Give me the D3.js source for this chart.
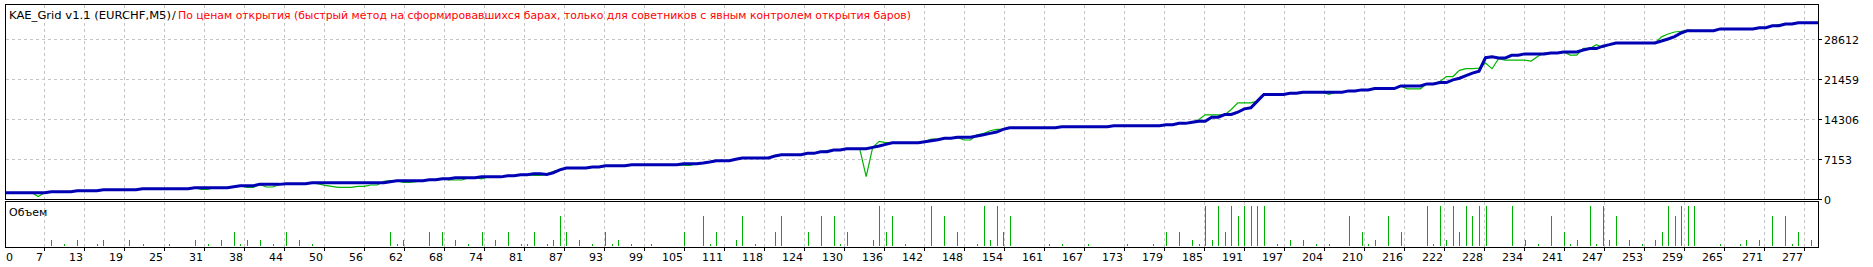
<!DOCTYPE html>
<html><head><meta charset="utf-8">
<script src="https://cdn.jsdelivr.net/npm/d3@7"></script>
<style>html,body{margin:0;padding:0;background:#fff;overflow:hidden}svg{display:block}</style>
</head><body>
<svg id="c" width="1873" height="267"></svg>
<script>
const titleMain = "KAE_Grid v1.1 (EURCHF,M5)";
const titleSep = "/";
const titleMode = "По ценам открытия (быстрый метод на сформировавшихся барах, только для советников с явным контролем открытия баров)";
const volumeLabel = "Объем";
const tradeTickLabels = ["0","7","13","19","25","31","38","44","50","56","62","68","74","81","87","93","99","105","111","118","124","130","136","142","148","154","161","167","173","179","185","191","197","204","210","216","222","228","234","241","247","253","259","265","271","277"];
const yTickValues = [0, 7153, 14306, 21459, 28612];

const balance = [
1130,1130,1130,1130,1130,1130,1130,1130,1306,1306,
1306,1306,1484,1484,1484,1484,1663,1663,1663,1663,
1663,1663,1842,1842,1842,1842,1842,1842,1842,1842,
2020,2020,2020,2020,2020,2020,2199,2378,2378,2378,
2616,2616,2616,2616,2736,2736,2736,2736,2914,2914,
2914,2914,2914,2914,2914,2914,2914,2914,2914,2914,
3093,3272,3272,3272,3272,3272,3451,3451,3630,3630,
3808,3808,3808,3808,3960,3960,3960,3960,4166,4166,
4345,4345,4524,4524,4400,4700,5200,5543,5543,5543,
5543,5722,5722,5960,5960,5960,5960,6139,6139,6139,
6139,6139,6139,6139,6139,6318,6318,6318,6437,6616,
6854,6854,6854,7093,7331,7331,7331,7331,7331,7689,
7927,7927,7927,7927,8165,8165,8463,8463,8761,8761,
8999,8999,8999,8999,9237,9476,9774,10072,10072,10072,
10072,10072,10251,10430,10609,10847,10847,11026,11026,11026,
11264,11502,11741,11979,12456,12754,12754,12754,12754,12754,
12754,12754,12754,12933,12933,12933,12933,12933,12933,12933,
12933,13111,13111,13111,13111,13111,13111,13111,13111,13290,
13290,13528,13528,13735,13914,13914,14629,14629,15110,15110,
15520,16126,16300,17500,18685,18685,18685,18685,18917,18917,
19096,19096,19096,19096,19096,19096,19096,19334,19334,19513,
19513,19751,19751,19751,19751,20228,20228,20228,20228,20586,
20586,20824,20824,21301,21599,22076,22500,22851,25264,25443,
25200,25200,25700,25700,25950,25950,25950,25950,26110,26110,
26300,26300,26300,26650,26900,26900,27330,27600,27900,27900,
27900,27900,27900,27900,27900,28260,28620,29030,29690,30110,
30110,30110,30110,30110,30420,30420,30420,30420,30420,30420,
30629,30629,30986,30986,31290,31290,31523,31523,31523,31523];

const equity = [
1130,1130,1130,1130,1130,1130,450,1130,1306,1306,
1306,1306,1484,1484,1484,1484,1663,1663,1663,1663,
1663,1663,1842,1842,1842,1842,1842,1842,1842,1842,
2020,1734,1734,2020,2020,2020,2199,2378,2092,2092,
2616,2150,2150,2616,2736,2736,2736,2736,2914,2682,
2450,2270,2092,2092,2092,2270,2270,2503,2503,3150,
3272,3272,2986,2986,3100,3272,3451,3451,3630,3397,
3397,3397,3808,3808,3600,3960,3960,3960,4166,4166,
4345,4345,4240,4240,4400,4900,5200,5543,5543,5543,
5543,5722,5722,5960,5960,5960,5960,6139,6139,6139,
6139,6139,6139,6139,6139,6020,6020,6318,6437,6616,
6854,6854,6854,7200,7331,7331,7331,7331,7331,7750,
7927,7927,7927,7927,8165,8165,8463,8640,8761,8761,
8999,8999,8999,3990,9237,10300,10072,10072,10072,10072,
9950,9950,10251,10700,10700,10847,10847,11026,10550,10550,
11500,11700,12200,12460,12456,12754,12754,12754,12754,12754,
12754,12754,12754,12933,12933,12933,12933,12933,12933,12933,
12933,13111,13111,13111,13111,13111,13111,13111,13111,13290,
13290,13528,13528,13735,14160,15056,15056,15056,15056,16000,
17200,17200,17200,17500,18685,18685,18685,18685,18917,18917,
19096,19096,19096,19096,18700,19096,19096,19334,19334,19513,
19513,19751,19751,19751,19751,20228,19700,19700,19700,20586,
20586,21000,21900,21900,23000,23300,23300,23400,24300,23300,
25100,24850,24850,24850,24850,24670,25500,26100,26110,26110,
26300,25740,25740,26950,26900,27600,27100,27600,27900,27900,
27900,27900,27900,27900,27900,29000,29500,29860,30000,30200,
30110,30110,30110,30110,30420,30420,30420,30420,30420,30420,
30629,30629,30986,31200,31290,31290,31523,31523,31523,31523];

const volTrades = [8,10,12,15,16,20,22,26,30,32,34,36,37,38,40,42,44,46,48,60,61,62,66,68,70,72,74,76,78,80,81,82,84,85,86,87,89,91,93,94,95,97,100,105,108,109,110,113,114,116,119,120,124,126,128,129,130,134,135,136,137,139,143,145,147,150,151,152,153,154,155,161,163,167,173,177,179,181,183,184,185,186,187,188,189,190,191,192,193,194,196,198,200,202,204,207,209,210,211,213,215,219,220,221,222,223,224,225,226,227,228,232,234,236,238,240,241,242,244,245,246,247,248,250,252,254,255,256,257,258,259,260,264,267,268,270,272,274,275,276,278];
const volLots = [0.03,0.01,0.03,0.01,0.03,0.03,0.01,0.01,0.03,0.01,0.03,0.07,0.01,0.03,0.03,0.01,0.07,0.03,0.01,0.07,0.01,0.03,0.07,0.07,0.03,0.01,0.07,0.03,0.07,0.01,0.01,0.07,0.01,0.03,0.15,0.07,0.03,0.01,0.07,0.01,0.03,0.01,0.01,0.07,0.15,0.01,0.07,0.03,0.15,0.01,0.07,0.15,0.07,0.15,0.15,0.01,0.07,0.03,0.2,0.07,0.15,0.01,0.2,0.15,0.07,0.01,0.2,0.03,0.2,0.07,0.15,0.01,0.01,0.01,0.01,0.01,0.07,0.07,0.03,0.01,0.2,0.03,0.2,0.07,0.2,0.15,0.2,0.2,0.2,0.2,0.01,0.03,0.03,0.01,0.01,0.15,0.07,0.01,0.03,0.15,0.07,0.2,0.01,0.2,0.03,0.2,0.07,0.2,0.15,0.2,0.2,0.2,0.03,0.01,0.15,0.07,0.01,0.03,0.2,0.01,0.2,0.03,0.15,0.03,0.01,0.03,0.07,0.2,0.15,0.2,0.2,0.2,0.01,0.01,0.03,0.03,0.15,0.15,0.01,0.07,0.03];

// ---- layout ----
const FONT = "'DejaVu Sans', Verdana, sans-serif";
const L = 5, R = 1818, T = 4, B = 199, VT = 201, VB = 247;
const svg = d3.select("#c");
svg.append("rect").attr("width",1873).attr("height",267).attr("fill","#fff");

const x = d3.scaleLinear().domain([0, 279]).range([-0.9, 1818]);
const y = d3.scaleLinear().domain([0, 34782]).range([B, T + 0.5]);
const yVol = d3.scaleLinear().domain([0, 0.2]).range([VB - 1, VB - 41]);

const gridFirst = 6.93, gridStep = 6.136;
const gridX = tradeTickLabels.slice(1).map((_, k) => Math.round(x(gridFirst + k * gridStep)) + 0.5);

const grid = svg.append("g").attr("stroke", "#c4c4c4").attr("stroke-width", 1).attr("stroke-dasharray", "3,3").attr("fill", "none");
gridX.forEach(gx => {
  grid.append("line").attr("x1", gx).attr("x2", gx).attr("y1", T + 1).attr("y2", B);
  grid.append("line").attr("x1", gx).attr("x2", gx).attr("y1", VT + 1).attr("y2", VB);
});
yTickValues.slice(1).forEach(v => {
  const gy = Math.round(y(v)) + 0.5;
  grid.append("line").attr("x1", L + 1).attr("x2", R).attr("y1", gy).attr("y2", gy);
});

svg.append("clipPath").attr("id", "clipMain").append("rect")
  .attr("x", L + 1).attr("y", T + 1).attr("width", R - L - 1).attr("height", B - T - 1);

const line = d3.line().x((d, i) => x(i)).y(d => y(d));
const plot = svg.append("g").attr("clip-path", "url(#clipMain)");
plot.append("path").datum(equity).attr("d", line).attr("fill", "none")
  .attr("stroke", "#00b400").attr("stroke-width", 1.2);
plot.append("path").datum(balance).attr("d", line).attr("fill", "none")
  .attr("stroke", "#0000b4").attr("stroke-width", 3).attr("stroke-linejoin", "miter");

// volume bars
svg.append("g").selectAll("rect").data(volTrades).join("rect")
  .attr("x", t => Math.round(x(t)))
  .attr("y", (t, i) => yVol(volLots[i]))
  .attr("width", 1)
  .attr("height", (t, i) => (VB - 1) - yVol(volLots[i]))
  .attr("fill", "#00b000");

// frames
const fr = svg.append("g").attr("fill", "none").attr("stroke", "#000").attr("stroke-width", 1);
fr.append("rect").attr("x", L + 0.5).attr("y", T + 0.5).attr("width", R - L).attr("height", B - T);
fr.append("rect").attr("x", L + 0.5).attr("y", VT + 0.5).attr("width", R - L).attr("height", VB - VT);

// axis ticks
const tk = svg.append("g").attr("stroke", "#000").attr("stroke-width", 1);
gridX.forEach(gx => tk.append("line").attr("x1", gx).attr("x2", gx).attr("y1", VB + 1).attr("y2", VB + 4));
yTickValues.forEach(v => {
  const gy = Math.round(y(v)) + 0.5;
  tk.append("line").attr("x1", R + 1).attr("x2", R + 4).attr("y1", gy).attr("y2", gy);
});

// axis labels
const lab = svg.append("g").attr("font-family", FONT).attr("font-size", 11).attr("fill", "#000");
lab.append("text").attr("x", 6).attr("y", 261).text(tradeTickLabels[0]);
tradeTickLabels.slice(1).forEach((t, k) => {
  lab.append("text").attr("x", gridX[k] - 1.5).attr("y", 261).attr("text-anchor", "end").text(t);
});
yTickValues.forEach(v => {
  lab.append("text").attr("x", 1824).attr("y", Math.round(y(v)) + 4.5).text(String(v));
});
lab.append("text").attr("x", 9).attr("y", 216).text(volumeLabel);

// title
const tt = svg.append("g").attr("font-family", FONT).attr("font-size", 11);
tt.append("text").attr("x", 9).attr("y", 19).attr("fill", "#000")
  .attr("textLength", 162).attr("lengthAdjust", "spacingAndGlyphs").text(titleMain);
tt.append("text").attr("x", 172).attr("y", 19).attr("fill", "#000").text(titleSep);
tt.append("text").attr("x", 178).attr("y", 19).attr("fill", "#ff0000")
  .attr("textLength", 733).attr("lengthAdjust", "spacingAndGlyphs").text(titleMode);
</script>
</body></html>
